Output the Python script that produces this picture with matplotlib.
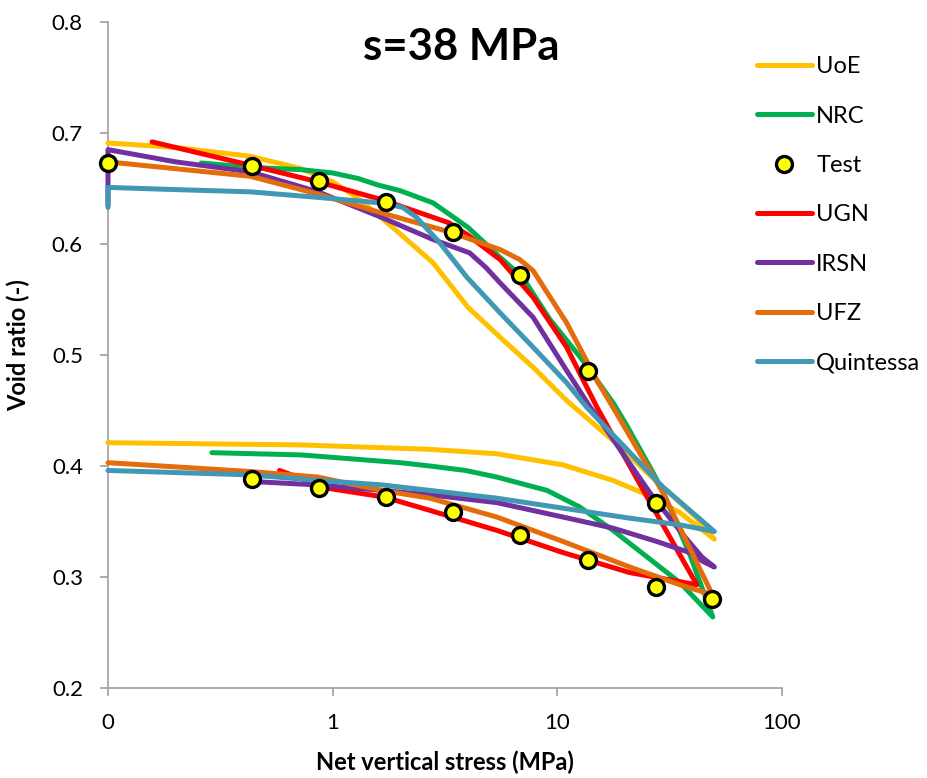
import numpy as np
import matplotlib
matplotlib.use("Agg")
import matplotlib.pyplot as plt
from matplotlib.ticker import FixedLocator, FixedFormatter, NullLocator

plt.rcParams['font.family'] = ['Lato', 'DejaVu Sans']

# loading then unloading path for each model (stress in MPa, void ratio)
uoe_x = [0.1, 0.2, 0.43, 0.72, 1.0, 1.28, 1.85, 2.8, 4.0, 5.56, 7.8, 11, 18.4, 25.1, 30.7, 41.8, 50,
         35.1, 25.1, 17.7, 10.6, 5.38, 2.71, 0.72, 0.1]
uoe_y = [0.691, 0.687, 0.679, 0.668, 0.656, 0.642, 0.615, 0.583, 0.543, 0.516, 0.489, 0.459, 0.420, 0.394, 0.378, 0.353, 0.334,
         0.358, 0.374, 0.387, 0.401, 0.411, 0.415, 0.419, 0.421]

nrc_x = [0.26, 0.43, 0.72, 1.0, 1.3, 1.6, 2.0, 2.8, 4.0, 5.56, 7.0, 9.27, 13.0, 17.7, 20.3, 26.5, 29.5, 38.9, 49.2,
         35.1, 25.1, 17.7, 12.6, 9.0, 5.38, 3.9, 2.71, 2.0, 0.72, 0.29]
nrc_y = [0.673, 0.669, 0.667, 0.664, 0.659, 0.653, 0.648, 0.637, 0.615, 0.588, 0.570, 0.532, 0.495, 0.457, 0.437, 0.395, 0.377, 0.320, 0.264,
         0.295, 0.318, 0.342, 0.363, 0.378, 0.390, 0.396, 0.400, 0.403, 0.410, 0.412]

test_x = [0.1, 0.436, 0.867, 1.72, 3.45, 6.85, 13.7, 27.5, 48.9,
          27.5, 13.7, 6.85, 3.45, 1.72, 0.867, 0.436]
test_y = [0.673, 0.670, 0.657, 0.638, 0.611, 0.572, 0.486, 0.367, 0.280,
          0.291, 0.315, 0.338, 0.359, 0.372, 0.380, 0.388]

ugn_x = [0.157, 0.43, 0.86, 1.65, 3.3, 4.0, 5.0, 5.56, 7.8, 11, 15, 25.1, 41.8,
         21, 10.6, 5.38, 2.71, 1.7, 0.88, 0.72, 0.58]
ugn_y = [0.692, 0.671, 0.656, 0.640, 0.619, 0.608, 0.593, 0.586, 0.552, 0.507, 0.453, 0.372, 0.293,
         0.304, 0.322, 0.342, 0.360, 0.372, 0.381, 0.389, 0.396]

irsn_x = [0.1, 0.1, 0.2, 0.43, 0.86, 1.65, 2.8, 4.07, 4.8, 5.56, 7.8, 11, 14, 15.5, 25.8, 37, 44, 50,
          44.5, 38.9, 27.7, 17.7, 10.6, 5.38, 2.71, 1.65, 0.85, 0.44]
irsn_y = [0.635, 0.685, 0.674, 0.665, 0.647, 0.624, 0.604, 0.592, 0.579, 0.565, 0.534, 0.486, 0.453, 0.441, 0.376, 0.336, 0.318, 0.309,
          0.314, 0.322, 0.332, 0.344, 0.354, 0.367, 0.374, 0.378, 0.383, 0.386]

ufz_x = [0.1, 0.43, 0.86, 1.65, 3.3, 5.56, 6.8, 7.8, 11, 15, 18.4, 29.5, 49,
         35.1, 21, 10.6, 5.38, 2.71, 1.65, 0.86, 0.43, 0.1]
ufz_y = [0.674, 0.661, 0.645, 0.628, 0.611, 0.595, 0.586, 0.576, 0.529, 0.477, 0.447, 0.376, 0.284,
         0.293, 0.309, 0.332, 0.354, 0.371, 0.378, 0.390, 0.395, 0.403]

quin_x = [0.1, 0.1, 0.2, 0.43, 0.86, 1.65, 2.05, 2.36, 3.0, 3.96, 5.56, 7.8, 11, 13.5, 29.5, 50,
          35.1, 21, 10.6, 5.38, 2.71, 1.65, 0.86, 0.43, 0.1]
quin_y = [0.633, 0.651, 0.649, 0.647, 0.642, 0.637, 0.633, 0.624, 0.601, 0.570, 0.538, 0.507, 0.475, 0.453, 0.381, 0.341,
          0.347, 0.353, 0.362, 0.371, 0.378, 0.383, 0.387, 0.392, 0.396]

x_ticks = [0.1, 1, 10, 100]
x_tick_labels = ['0', '1', '10', '100']
y_ticks = [0.2, 0.3, 0.4, 0.5, 0.6, 0.7, 0.8]

fig = plt.figure(figsize=(9.28, 7.78), dpi=100)
ax = fig.add_axes([108 / 928, 1 - 688 / 778, (782 - 108) / 928, (688 - 22) / 778])

lw = 3.6
style = dict(lw=lw, zorder=3, solid_capstyle='round', solid_joinstyle='round', clip_on=False)
ax.plot(uoe_x, uoe_y, color='#FFC000', label='UoE', **style)
ax.plot(nrc_x, nrc_y, color='#00B050', label='NRC', **style)
ax.plot(test_x, test_y, ls='none', marker='o', ms=11.5, mfc='#FFFF00', mec='black', mew=2.4,
        label='Test', zorder=5, clip_on=False)
ax.plot(ugn_x, ugn_y, color='#FF0000', label='UGN', **style)
ax.plot(irsn_x, irsn_y, color='#7030A0', label='IRSN', **style)
ax.plot(ufz_x, ufz_y, color='#E46C0A', label='UFZ', **style)
ax.plot(quin_x, quin_y, color='#4198B4', label='Quintessa', **style)

ax.set_xscale('log')
ax.set_xlim(0.1, 100)
ax.set_ylim(0.2, 0.8)
ax.xaxis.set_major_locator(FixedLocator(x_ticks))
ax.xaxis.set_major_formatter(FixedFormatter(x_tick_labels))
ax.xaxis.set_minor_locator(NullLocator())
ax.set_yticks(y_ticks)
ax.set_yticklabels(['%.1f' % v for v in y_ticks])

for side in ['top', 'right']:
    ax.spines[side].set_visible(False)
for side in ['left', 'bottom']:
    ax.spines[side].set_color('#A6A6A6')
    ax.spines[side].set_linewidth(1.3)
ax.tick_params(axis='both', which='major', direction='out', length=6, width=1.3,
               color='#A6A6A6', labelsize=16, pad=12)

ax.set_xlabel('Net vertical stress (MPa)', fontsize=17, fontweight='bold')
ax.xaxis.set_label_coords(0.5, (688 - 762) / 666)
ax.xaxis.label.set_va('center')
ax.set_ylabel('Void ratio (-)', fontsize=17, fontweight='bold')
ax.yaxis.set_label_coords((18 - 108) / 674, (688 - 345) / 666)
ax.yaxis.label.set_va('center')
fig.text(461 / 928, 1 - 60 / 778, 's=38 MPa', fontsize=31.5, fontweight='bold',
         ha='center', va='baseline')

fig.legend(loc='upper left', bbox_to_anchor=(736 / 928, 1 - 35 / 778), frameon=False,
           fontsize=17, handlelength=2.3, handletextpad=0.2, labelspacing=1.2)

fig.savefig('out.png', dpi=100)
